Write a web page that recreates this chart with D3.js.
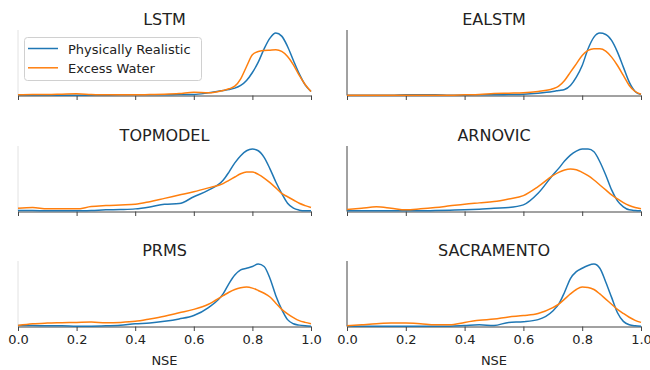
<!DOCTYPE html>
<html>
<head>
<meta charset="utf-8">
<script src="https://cdn.jsdelivr.net/npm/d3@7"></script>
<style>
    body { margin: 0; background: #fff; }
    svg { font-family: "DejaVu Sans", sans-serif; }
</style>
</head>
<body>
<div id="chart"></div>
<script>
// NSE grid the densities were read at
var nse = [0, 0.05, 0.1, 0.15, 0.2, 0.25, 0.3, 0.35, 0.4, 0.45, 0.5, 0.55, 0.6, 0.65,
    0.7, 0.72, 0.74, 0.76, 0.78, 0.8, 0.82, 0.84, 0.86, 0.88, 0.9, 0.92, 0.94, 0.96, 0.98, 1.0];

var models = ["LSTM", "EALSTM", "TOPMODEL", "ARNOVIC", "PRMS", "SACRAMENTO"];
var seriesNames = ["Physically Realistic", "Excess Water"];
var xTicks = [0, 0.2, 0.4, 0.6, 0.8, 1.0];

// density (arbitrary units)
var lstmReal = [1, 1, 1, 1, 1, 1, 1, 2, 2, 2, 2, 3, 3, 8, 15, 18, 22, 30, 45, 69, 100, 140, 172, 187, 178, 147, 105, 65, 32, 12];
var lstmExcess = [2, 3, 3, 4, 5, 3, 2, 2, 2, 3, 4, 6, 10, 8, 15, 20, 28, 50, 87, 122, 132, 135, 136, 137, 132, 117, 92, 60, 33, 12];
var ealstmReal = [1, 1, 1, 1, 2, 2, 2, 1, 1, 2, 2, 3, 4, 7, 12, 15, 18, 30, 55, 90, 140, 175, 187, 183, 165, 130, 85, 40, 12, 3];
var ealstmExcess = [1, 1, 1, 1, 1, 1, 1, 1, 2, 3, 6, 7, 8, 12, 20, 28, 45, 70, 95, 120, 135, 140, 140, 133, 115, 90, 60, 30, 12, 4];
var topReal = [3, 3, 2, 2, 2, 3, 5, 6, 8, 14, 22, 24, 45, 65, 95, 120, 148, 170, 185, 190, 185, 165, 130, 90, 55, 25, 10, 4, 2, 2];
var topExcess = [10, 12, 8, 8, 8, 15, 18, 20, 22, 30, 40, 50, 60, 72, 85, 95, 105, 115, 120, 120, 113, 102, 88, 72, 55, 45, 35, 25, 18, 12];
var arnoReal = [2, 2, 2, 2, 2, 2, 3, 4, 5, 7, 10, 12, 20, 55, 110, 130, 152, 170, 182, 188, 188, 180, 150, 110, 65, 32, 14, 5, 3, 2];
var arnoExcess = [6, 10, 14, 10, 5, 8, 12, 17, 22, 26, 30, 38, 48, 75, 108, 118, 125, 128, 126, 118, 108, 95, 80, 65, 50, 38, 27, 18, 12, 8];
var prmsReal = [3, 3, 2, 2, 1, 1, 2, 4, 8, 10, 15, 22, 32, 55, 95, 125, 150, 165, 170, 175, 182, 175, 140, 90, 50, 20, 8, 4, 2, 1];
var prmsExcess = [3, 8, 10, 11, 12, 13, 11, 12, 15, 22, 30, 40, 50, 65, 90, 100, 108, 113, 115, 112, 105, 97, 86, 68, 50, 37, 26, 17, 12, 8];
var sacReal = [1, 1, 1, 1, 1, 1, 1, 1, 3, 5, 3, 12, 14, 20, 45, 65, 100, 140, 160, 170, 178, 182, 170, 130, 85, 40, 15, 5, 2, 1];
var sacExcess = [2, 5, 8, 10, 10, 8, 5, 5, 12, 18, 22, 28, 32, 38, 55, 65, 80, 95, 108, 115, 114, 108, 95, 80, 65, 50, 38, 27, 18, 12];

var panelSeries = [
    [lstmReal, lstmExcess],
    [ealstmReal, ealstmExcess],
    [topReal, topExcess],
    [arnoReal, arnoExcess],
    [prmsReal, prmsExcess],
    [sacReal, sacExcess]
];
var colors = ["#1f77b4", "#ff7f0e"];

(function () {
    "use strict";

    var width = 650, height = 370;
    var colX = [[18, 311], [347, 641]];
    var rowTop = [30, 146, 261];
    var plotH = 65.5;

    var svg = d3.select("#chart").append("svg")
        .attr("width", width)
        .attr("height", height);

    models.forEach(function (name, i) {
        var col = i % 2, row = Math.floor(i / 2);
        var x = d3.scaleLinear().domain([0, 1]).range(colX[col]);
        var yMax = d3.max(panelSeries[i], function (s) { return d3.max(s); }) * 1.05;
        var y = d3.scaleLinear().domain([0, yMax]).range([rowTop[row] + plotH, rowTop[row]]);
        var g = svg.append("g");

        // left spine (left column renders faint in the original)
        g.append("line")
            .attr("x1", x(0)).attr("x2", x(0))
            .attr("y1", y(0)).attr("y2", y(yMax))
            .attr("stroke", col === 0 ? "#e2e2e2" : "#444")
            .attr("stroke-width", 1);

        var axis = d3.axisBottom(x)
            .tickValues(xTicks)
            .tickSize(4.5)
            .tickSizeOuter(0)
            .tickPadding(4)
            .tickFormat(row === 2 ? d3.format(".1f") : function () { return ""; });

        var ax = g.append("g")
            .attr("transform", "translate(0," + y(0) + ")")
            .call(axis);
        ax.select(".domain").attr("stroke", "#444");
        ax.selectAll(".tick line").attr("stroke", "#444");
        ax.selectAll(".tick text")
            .attr("fill", "#222")
            .style("font-size", "13px")
            .style("font-family", "DejaVu Sans, sans-serif");

        var line = d3.line()
            .x(function (d, k) { return x(nse[k]); })
            .y(function (d) { return y(d); })
            .curve(d3.curveMonotoneX);

        panelSeries[i].forEach(function (s, j) {
            g.append("path")
                .datum(s)
                .attr("d", line)
                .attr("fill", "none")
                .attr("stroke", colors[j])
                .attr("stroke-width", 1.5);
        });

        g.append("text")
            .attr("x", (colX[col][0] + colX[col][1]) / 2)
            .attr("y", rowTop[row] - 5)
            .attr("text-anchor", "middle")
            .attr("fill", "#222")
            .style("font-size", "16px")
            .text(name);

        if (row === 2) {
            g.append("text")
                .attr("x", (colX[col][0] + colX[col][1]) / 2)
                .attr("y", 365)
                .attr("text-anchor", "middle")
                .attr("fill", "#222")
                .style("font-size", "13px")
                .text("NSE");
        }
    });

    // legend inside LSTM panel
    var leg = svg.append("g");
    leg.append("rect")
        .attr("x", 24.5).attr("y", 37.5)
        .attr("width", 177).attr("height", 43)
        .attr("rx", 3)
        .attr("fill", "#fff").attr("fill-opacity", 0.85)
        .attr("stroke", "#d0d0d0");
    seriesNames.forEach(function (s, j) {
        var ly = 48.5 + j * 19.3;
        leg.append("line")
            .attr("x1", 28).attr("x2", 58)
            .attr("y1", ly).attr("y2", ly)
            .attr("stroke", colors[j]).attr("stroke-width", 1.5);
        leg.append("text")
            .attr("x", 68).attr("y", ly + 5)
            .attr("fill", "#222")
            .style("font-size", "13px")
            .text(s);
    });
}());
</script>
</body>
</html>
